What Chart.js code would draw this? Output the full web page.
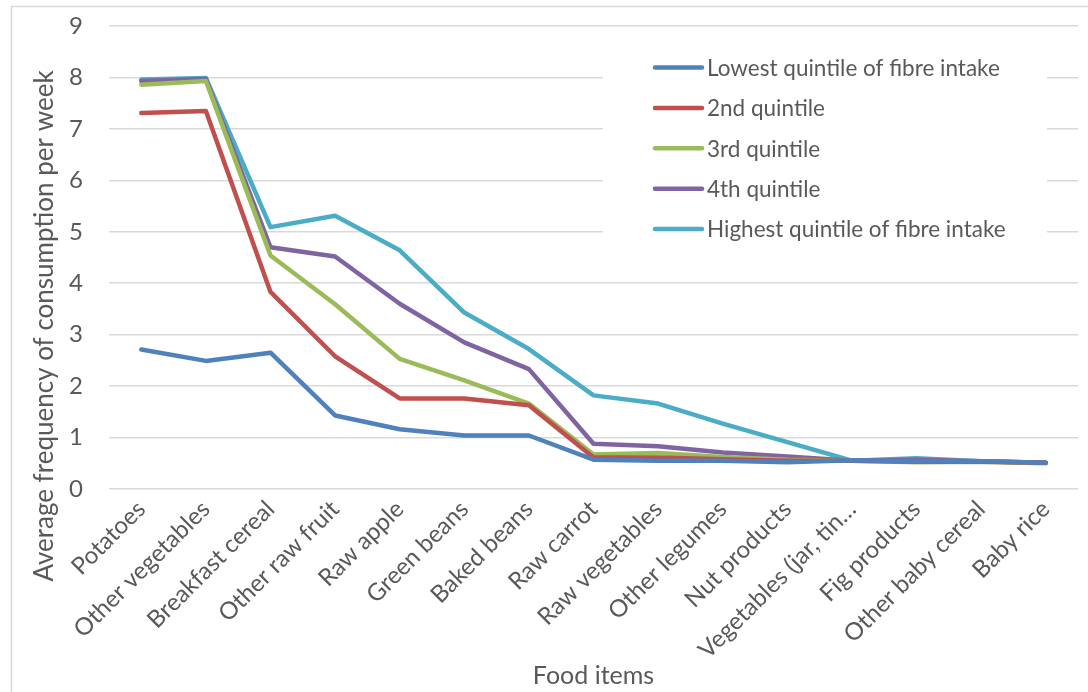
<!DOCTYPE html>
<html>
<head>
<meta charset="utf-8">
<script src="https://cdn.jsdelivr.net/npm/chart.js@4.4.1/dist/chart.umd.min.js"></script>
<style>
  html, body { margin: 0; padding: 0; background: #ffffff; }
  #wrap { width: 1088px; height: 692px; position: relative; }
</style>
</head>
<body>
<div id="wrap"><canvas id="chart"></canvas></div>
<script>
// Food items along the x axis
const categories = [
  'Potatoes', 'Other vegetables', 'Breakfast cereal', 'Other raw fruit',
  'Raw apple', 'Green beans', 'Baked beans', 'Raw carrot', 'Raw vegetables',
  'Other legumes', 'Nut products', 'Vegetables (jar, tin\u2026', 'Fig products',
  'Other baby cereal', 'Baby rice'
];

// Average weekly frequency of consumption, by quintile of fibre intake
const lowestQuintile  = [2.71, 2.49, 2.65, 1.43, 1.16, 1.04, 1.04, 0.57, 0.55, 0.55, 0.52, 0.56, 0.54, 0.54, 0.51];
const secondQuintile  = [7.31, 7.35, 3.83, 2.58, 1.76, 1.76, 1.63, 0.61, 0.61, 0.58, 0.55, 0.55, 0.53, 0.53, 0.51];
const thirdQuintile   = [7.86, 7.93, 4.54, 3.59, 2.53, 2.11, 1.66, 0.67, 0.70, 0.62, 0.57, 0.55, 0.52, 0.53, 0.50];
const fourthQuintile  = [7.93, 7.97, 4.70, 4.52, 3.60, 2.85, 2.33, 0.88, 0.83, 0.71, 0.63, 0.55, 0.57, 0.54, 0.51];
const highestQuintile = [7.96, 7.99, 5.09, 5.31, 4.64, 3.43, 2.72, 1.82, 1.66, 1.27, 0.91, 0.55, 0.60, 0.54, 0.51];

const seriesNames = [
  'Lowest quintile of fibre intake', '2nd quintile', '3rd quintile',
  '4th quintile', 'Highest quintile of fibre intake'
];
const seriesColors = ['#4F81BD', '#C0504D', '#9BBB59', '#8064A2', '#4BACC6'];
const seriesValues = [lowestQuintile, secondQuintile, thirdQuintile, fourthQuintile, highestQuintile];

const yTicks = [0, 1, 2, 3, 4, 5, 6, 7, 8, 9];

const FONT = 'Lato, "Open Sans", sans-serif';
const TEXT = '#595959';

// White background and the light outer frame
const framePlugin = {
  id: 'frame',
  beforeDraw(chart) {
    const ctx = chart.ctx;
    ctx.save();
    ctx.fillStyle = '#ffffff';
    ctx.fillRect(0, 0, chart.width, chart.height);
    ctx.strokeStyle = '#d9d9d9';
    ctx.lineWidth = 1.5;
    ctx.strokeRect(11.5, 6.5, chart.width + 20, chart.height + 20);
    ctx.restore();
  },
  afterDraw(chart) {
    // vertical axis title
    const ctx = chart.ctx;
    ctx.save();
    ctx.translate(45, 326);
    ctx.rotate(-Math.PI / 2);
    ctx.font = '26px ' + FONT;
    ctx.fillStyle = TEXT;
    ctx.textAlign = 'center';
    ctx.textBaseline = 'middle';
    ctx.fillText('Average frequency of consumption per week', 0, 0);
    ctx.restore();
  }
};

// Legend drawn inside the plot, in the upper right
const insideLegend = {
  id: 'insideLegend',
  beforeDatasetsDraw(chart) {
    const ctx = chart.ctx;
    const x0 = 603, y0 = 48, w = 444, h = 200;
    ctx.save();
    ctx.fillStyle = '#ffffff';
    ctx.fillRect(x0, y0, w, h);
    ctx.font = '22.5px ' + FONT;
    ctx.textBaseline = 'middle';
    ctx.textAlign = 'left';
    chart.data.datasets.forEach((ds, i) => {
      const y = 67.5 + i * 40.4;
      ctx.strokeStyle = ds.borderColor;
      ctx.lineWidth = 4.5;
      ctx.lineCap = 'round';
      ctx.beginPath();
      ctx.moveTo(655, y);
      ctx.lineTo(702, y);
      ctx.stroke();
      ctx.fillStyle = TEXT;
      ctx.fillText(ds.label, 707, y + 1);
    });
    ctx.restore();
  }
};

const datasets = seriesValues.map((vals, i) => ({
  label: seriesNames[i],
  data: vals,
  borderColor: seriesColors[i],
  backgroundColor: seriesColors[i],
  borderWidth: 4.5,
  pointRadius: 0,
  pointHoverRadius: 0,
  tension: 0,
  fill: false,
  borderJoinStyle: 'round',
  borderCapStyle: 'round'
}));

new Chart(document.getElementById('chart'), {
  type: 'line',
  data: { labels: categories, datasets },
  options: {
    responsive: true,
    maintainAspectRatio: false,
    animation: false,
    events: [],
    layout: { padding: { top: 26, right: 10, left: 0, bottom: 0 } },
    plugins: {
      legend: { display: false },
      tooltip: { enabled: false },
      title: { display: false }
    },
    scales: {
      x: {
        type: 'category',
        offset: true,
        grid: { display: false, drawTicks: false },
        border: { display: false },
        ticks: {
          color: TEXT,
          font: { family: FONT, size: 24 },
          minRotation: 45,
          maxRotation: 45,
          autoSkip: false,
          padding: 6
        },
        title: {
          display: true,
          text: 'Food items',
          color: TEXT,
          font: { family: FONT, size: 25 },
          padding: { top: 0, bottom: 1 }
        },
        afterFit(scale) {
          scale.height = 203;
          scale.paddingLeft = 0;
          scale.paddingRight = 0;
          scale.paddingTop = 0;
          scale.paddingBottom = 0;
        }
      },
      y: {
        min: 0,
        max: 9,
        afterBuildTicks(scale) {
          scale.ticks = yTicks.map(v => ({ value: v }));
        },
        grid: { color: '#d9d9d9', lineWidth: 1.5, drawTicks: false },
        border: { display: false },
        ticks: {
          color: TEXT,
          font: { family: FONT, size: 24 },
          padding: 26
        },
        afterFit(scale) {
          scale.width = 109;
          scale.paddingTop = 0;
          scale.paddingBottom = 0;
          scale.paddingLeft = 0;
          scale.paddingRight = 0;
        }
      }
    }
  },
  plugins: [framePlugin, insideLegend]
});
</script>
</body>
</html>
